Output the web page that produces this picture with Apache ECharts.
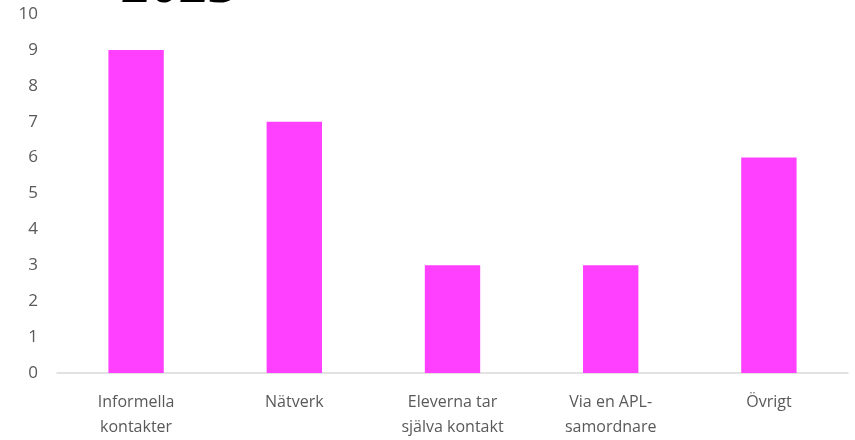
<!DOCTYPE html>
<html><head><meta charset="utf-8">
<script src="https://cdn.jsdelivr.net/npm/echarts@6/dist/echarts.min.js"></script>
<style>html,body{margin:0;padding:0;background:#fff}#c{width:855px;height:440px}</style>
</head><body><div id="c"></div>
<script>
const categories = ["Informella\nkontakter", "Nätverk", "Eleverna tar\nsjälva kontakt", "Via en APL-\nsamordnare", "Övrigt"];
const values = [9, 7, 3, 3, 6];
const yTicks = [0, 1, 2, 3, 4, 5, 6, 7, 8, 9, 10];
const titleText = "2023";

const chart = echarts.init(document.getElementById('c'), null, {renderer: 'canvas'});
chart.setOption({
  animation: false,
  title: {
    text: titleText, left: 118, top: -47,
    textStyle: {fontFamily: 'Liberation Serif', fontStyle: 'italic', fontWeight: 'bold', fontSize: 58, color: '#000'}
  },
  grid: {left: 57, right: 7, top: 14, bottom: 66.5, containLabel: false},
  xAxis: {
    type: 'category', data: categories,
    axisLine: {lineStyle: {color: '#d9d9d9', width: 1.5}},
    axisTick: {show: false},
    axisLabel: {color: '#595959', fontFamily: 'Open Sans', fontSize: 16, lineHeight: 25, margin: 17, interval: 0}
  },
  yAxis: {
    type: 'value', min: yTicks[0], max: yTicks[yTicks.length - 1], interval: 1,
    axisLine: {show: false}, axisTick: {show: false}, splitLine: {show: false},
    axisLabel: {color: '#595959', fontFamily: 'Open Sans', fontSize: 17, margin: 19}
  },
  series: [{
    type: 'bar', data: values, barWidth: '35%',
    itemStyle: {color: '#FF40FF'}
  }]
});
</script></body></html>
